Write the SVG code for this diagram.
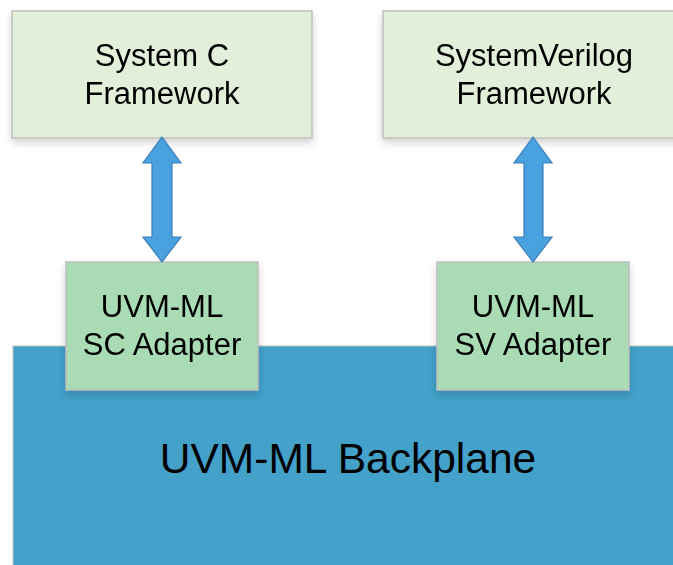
<svg xmlns="http://www.w3.org/2000/svg" width="673" height="565" viewBox="0 0 673 565">
  <style>
    .fw { fill: #E2F0D9; stroke: #BFBFBF; stroke-width: 1.5; }
    .ad { fill: #A9DCB5; stroke: #BFBFBF; stroke-width: 1.5; }
    .bp { fill: #43A1CA; stroke: #BFBFBF; stroke-width: 1; }
    .lbl { font-family: "Liberation Sans", Arial, sans-serif; font-size: 31px; fill: #000; text-anchor: middle; }
    .big { font-size: 42.5px; }
    .arr { fill: #4AA1E0; stroke: #3A7DB8; stroke-width: 1.2; stroke-linejoin: miter; }
  </style>
  <defs>
    <filter id="shadow" x="-10%" y="-10%" width="130%" height="140%">
      <feGaussianBlur in="SourceAlpha" stdDeviation="4"/>
      <feOffset dx="0" dy="4" result="b"/>
      <feComponentTransfer><feFuncA type="linear" slope="0.18"/></feComponentTransfer>
      <feMerge><feMergeNode/><feMergeNode in="SourceGraphic"/></feMerge>
    </filter>
  </defs>
  <rect width="673" height="565" fill="#FFFFFF"/>

  <g id="backplane">
    <rect class="bp" x="13" y="346" width="680" height="240"/>
    <text class="lbl big" x="348" y="473">UVM-ML Backplane</text>
  </g>

  <g id="systemc-framework" filter="url(#shadow)">
    <rect class="fw" x="12" y="11" width="300" height="127"/>
    <text class="lbl" x="162" y="66">System C</text>
    <text class="lbl" x="162" y="104">Framework</text>
  </g>

  <g id="sv-framework" filter="url(#shadow)">
    <rect class="fw" x="383" y="11" width="310" height="127"/>
    <text class="lbl" x="534" y="66">SystemVerilog</text>
    <text class="lbl" x="534" y="104">Framework</text>
  </g>

  <g id="sc-adapter" filter="url(#shadow)">
    <rect class="ad" x="66" y="262" width="192" height="128"/>
    <text class="lbl" x="162" y="317">UVM-ML</text>
    <text class="lbl" x="162" y="355">SC Adapter</text>
  </g>

  <g id="sv-adapter" filter="url(#shadow)">
    <rect class="ad" x="437" y="262" width="192" height="128"/>
    <text class="lbl" x="533" y="317">UVM-ML</text>
    <text class="lbl" x="533" y="355">SV Adapter</text>
  </g>

  <g id="connectors">
    <!-- double-headed block arrows between frameworks and adapters -->
    <path class="arr" d="M162,137 L181,163 L172,163 L172,237 L181,237 L162,262 L143,237 L152,237 L152,163 L143,163 Z"/>
    <path class="arr" d="M533,137 L552,163 L543,163 L543,237 L552,237 L533,262 L514,237 L524,237 L524,163 L514,163 Z"/>
  </g>
</svg>
